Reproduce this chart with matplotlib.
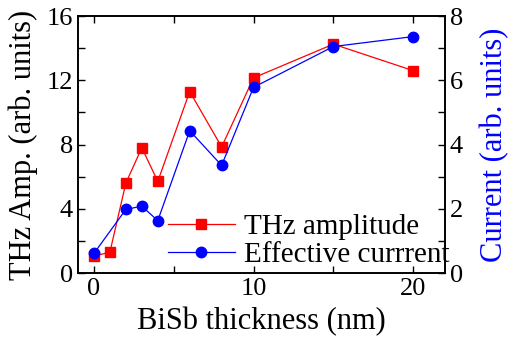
import matplotlib.pyplot as plt
from matplotlib.ticker import MultipleLocator

plt.rcParams['font.family'] = ['Liberation Serif', 'DejaVu Serif']
plt.rcParams['mathtext.fontset'] = 'stix'

# BiSb thickness (nm)
thickness_thz = [0, 1, 2, 3, 4, 6, 8, 10, 15, 20]
thz_amplitude = [1.05, 1.3, 5.6, 7.8, 5.7, 11.3, 7.85, 12.15, 14.25, 12.6]

thickness_cur = [0, 2, 3, 4, 6, 8, 10, 15, 20]
eff_current = [0.61, 1.98, 2.08, 1.63, 4.43, 3.35, 5.78, 7.05, 7.36]

tick_fs = 19
label_fs = 22
legend_fs = 21

fig = plt.figure(figsize=(5.11, 3.41), dpi=100)
ax = fig.add_axes([0.1526, 0.1994, 0.7184, 0.7536])
ax2 = ax.twinx()

l1, = ax.plot(thickness_thz, thz_amplitude, color='red', marker='s', markersize=6.5,
              linewidth=0.9, label='THz amplitude')
l2, = ax2.plot(thickness_cur, eff_current, color='blue', marker='o', markersize=7.5,
               linewidth=0.9, label='Effective currrent')

ax.set_xlim(-1, 22)
ax.set_ylim(0, 16)
ax2.set_ylim(0, 8)

ax.xaxis.set_major_locator(MultipleLocator(10))
ax.xaxis.set_minor_locator(MultipleLocator(5))
ax.yaxis.set_major_locator(MultipleLocator(4))
ax.yaxis.set_minor_locator(MultipleLocator(2))
ax2.yaxis.set_major_locator(MultipleLocator(2))
ax2.yaxis.set_minor_locator(MultipleLocator(1))

ax.tick_params(which='both', direction='in', top=True, right=False, labelsize=tick_fs,
               width=1, length=5)
ax2.tick_params(which='both', direction='in', labelsize=tick_fs, width=1, length=5)

for a in (ax, ax2):
    for s in a.spines.values():
        s.set_linewidth(1.2)

ax.set_xlabel('BiSb thickness (nm)', fontsize=label_fs, labelpad=5)
ax.set_ylabel('THz Amp. (arb. units)', fontsize=label_fs, labelpad=6)
ax2.set_ylabel('Current (arb. units)', fontsize=label_fs, color='blue', labelpad=12)

ax.legend([l1, l2], ['THz amplitude', 'Effective currrent'], loc='lower left',
          bbox_to_anchor=(0.213, -0.026), frameon=False, fontsize=legend_fs, numpoints=1,
          handlelength=2.3, handletextpad=0.3, labelspacing=0.05, borderaxespad=0)

fig.savefig('out.png', dpi=100)
